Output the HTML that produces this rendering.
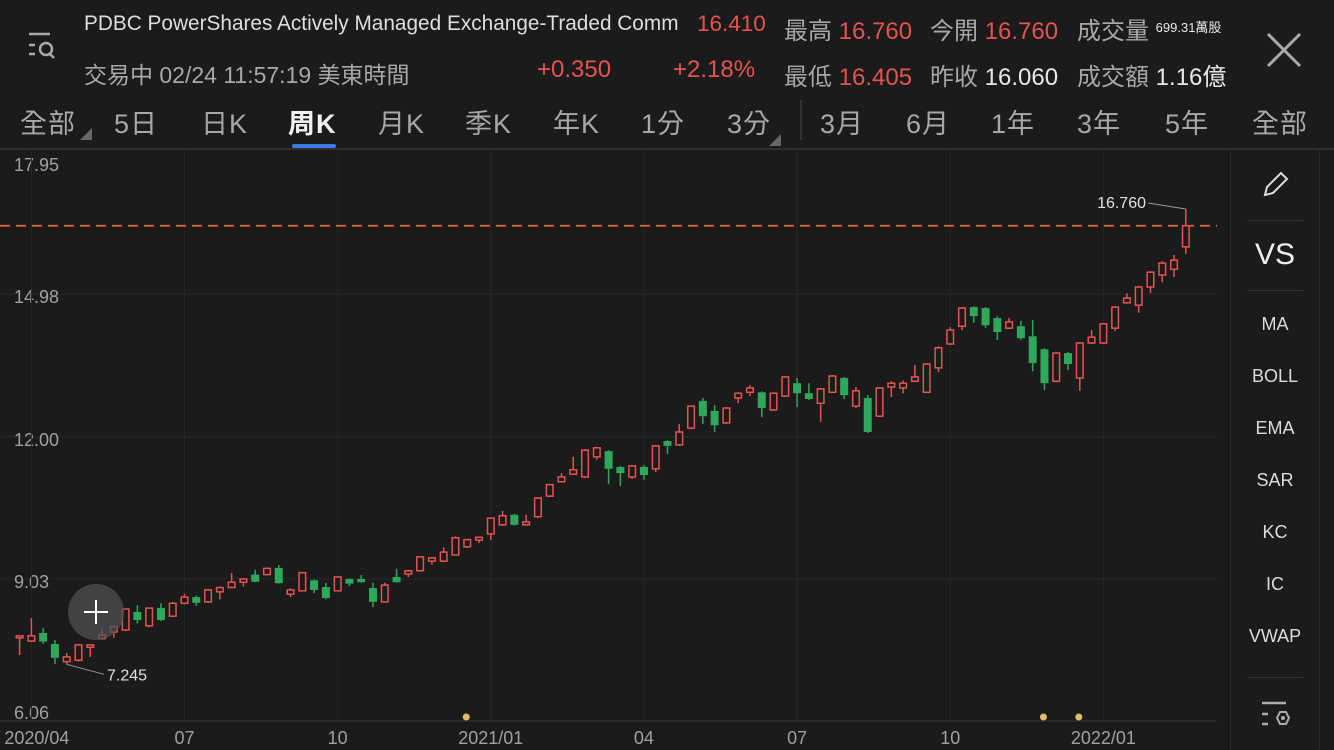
<!DOCTYPE html>
<html><head><meta charset="utf-8">
<style>
html,body{margin:0;padding:0;background:#1b1b1c;width:1334px;height:750px;overflow:hidden;font-family:"Liberation Sans","Noto Sans CJK TC",sans-serif;}
.t{position:absolute;white-space:nowrap;}
.g{color:#a8a8a8}.r{color:#e5534f}.w{color:#e8e8e8}
.tab{position:absolute;top:102px;font-size:27px;color:#a8a8a8;letter-spacing:1px}
.ind{position:absolute;left:1232px;width:86px;text-align:center;font-size:18px;color:#dcdcdc}
</style></head><body>
<div style="position:absolute;left:0;top:0;width:1334px;height:148px;">
  <svg class="t" style="left:26px;top:30px" width="34" height="34" viewBox="0 0 34 34"><line x1="3" y1="4" x2="24" y2="4" stroke="#aaa" stroke-width="2.5"/><line x1="3" y1="15" x2="9" y2="15" stroke="#aaa" stroke-width="2.5"/><line x1="3" y1="24" x2="9" y2="24" stroke="#aaa" stroke-width="2.5"/><circle cx="20" cy="19" r="6" fill="none" stroke="#aaa" stroke-width="2.5"/><line x1="24" y1="24" x2="28" y2="28" stroke="#aaa" stroke-width="2.5"/></svg>
  <div class="t w" style="left:84px;top:12px;font-size:20.8px;color:#dedede">PDBC PowerShares Actively Managed Exchange-Traded Comm</div>
  <div class="t g" style="left:84px;top:56px;font-size:23px">交易中 02/24 11:57:19 美東時間</div>
  <div class="t r" style="left:697px;top:11px;font-size:22.5px">16.410</div>
  <div class="t r" style="left:537px;top:56px;font-size:24px">+0.350</div>
  <div class="t r" style="left:673px;top:56px;font-size:24px">+2.18%</div>
  <div class="t" style="left:784px;top:11px;font-size:24px"><span class="g">最高 </span><span class="r">16.760</span></div>
  <div class="t" style="left:930px;top:11px;font-size:24px"><span class="g">今開 </span><span class="r">16.760</span></div>
  <div class="t" style="left:1077px;top:11px;font-size:24px"><span class="g">成交量 </span><span class="w" style="font-size:13px;vertical-align:7px">699.31萬股</span></div>
  <div class="t" style="left:784px;top:57px;font-size:24px"><span class="g">最低 </span><span class="r">16.405</span></div>
  <div class="t" style="left:930px;top:57px;font-size:24px"><span class="g">昨收 </span><span class="w">16.060</span></div>
  <div class="t" style="left:1077px;top:57px;font-size:24px"><span class="g">成交額 </span><span class="w">1.16億</span></div>
  <svg class="t" style="left:1266px;top:32px" width="36" height="36"><line x1="2" y1="2" x2="34" y2="34" stroke="#aaa" stroke-width="3"/><line x1="34" y1="2" x2="2" y2="34" stroke="#aaa" stroke-width="3"/></svg>
  <div class="tab" style="left:20px">全部</div>
  <div class="tab" style="left:114px">5日</div>
  <div class="tab" style="left:201px">日K</div>
  <div class="tab" style="left:288px;color:#f0f0f0;font-weight:bold">周K</div>
  <div class="tab" style="left:378px">月K</div>
  <div class="tab" style="left:465px">季K</div>
  <div class="tab" style="left:553px">年K</div>
  <div class="tab" style="left:641px">1分</div>
  <div class="tab" style="left:727px">3分</div>
  <div class="tab" style="left:820px">3月</div>
  <div class="tab" style="left:906px">6月</div>
  <div class="tab" style="left:991px">1年</div>
  <div class="tab" style="left:1077px">3年</div>
  <div class="tab" style="left:1165px">5年</div>
  <div class="tab" style="left:1252px">全部</div>
  <div style="position:absolute;left:292px;top:144px;width:44px;height:4px;background:#3e7be8;border-radius:2px"></div>
  <div style="position:absolute;left:800px;top:100px;width:2px;height:40px;background:#333"></div>
  <svg class="t" style="left:80px;top:128px" width="12" height="12"><polygon points="12,0 12,12 0,12" fill="#666"/></svg>
  <svg class="t" style="left:769px;top:134px" width="12" height="12"><polygon points="12,0 12,12 0,12" fill="#666"/></svg>
</div>
<div style="position:absolute;left:0;top:148px;width:1334px;height:2px;background:#2e2e2e"></div>

<svg id="chart" style="position:absolute;left:0;top:0" width="1230" height="750"></svg>

<div style="position:absolute;left:1230px;top:150px;width:88px;height:600px;border-left:1px solid #2a2a2a;border-right:1px solid #2a2a2a">
  <div style="position:absolute;left:16px;right:16px;top:70px;height:1px;background:#333"></div>
  <div style="position:absolute;left:16px;right:16px;top:140px;height:1px;background:#333"></div>
  <div style="position:absolute;left:16px;right:16px;top:527px;height:1px;background:#333"></div>
</div>
<svg class="t" style="left:1261px;top:169px" width="30" height="30"><path d="M4 26 L6 18 L20 4 L26 10 L12 24 Z" fill="none" stroke="#ddd" stroke-width="2"/></svg>
<div class="ind" style="top:238px;font-size:30px;color:#eee">VS</div>
<div class="ind" style="top:314px">MA</div>
<div class="ind" style="top:366px">BOLL</div>
<div class="ind" style="top:418px">EMA</div>
<div class="ind" style="top:470px">SAR</div>
<div class="ind" style="top:522px">KC</div>
<div class="ind" style="top:574px">IC</div>
<div class="ind" style="top:626px">VWAP</div>
<svg class="t" style="left:1260px;top:700px" width="32" height="30"><line x1="2" y1="3" x2="26" y2="3" stroke="#aaa" stroke-width="2.5"/><line x1="2" y1="14" x2="8" y2="14" stroke="#aaa" stroke-width="2.5"/><line x1="2" y1="24" x2="8" y2="24" stroke="#aaa" stroke-width="2.5"/><polygon points="20,12 26,12 29,18 26,24 20,24 17,18" fill="none" stroke="#aaa" stroke-width="2"/><circle cx="23" cy="18" r="2" fill="#aaa"/></svg>

<div style="position:absolute;left:68px;top:584px;width:56px;height:56px;border-radius:50%;background:rgba(80,80,82,0.75)">
  <div style="position:absolute;left:16px;top:27px;width:24px;height:2px;background:#fff"></div>
  <div style="position:absolute;left:27px;top:16px;width:2px;height:24px;background:#fff"></div>
</div>

<script>
const opens=[7.80,7.73,7.90,7.67,7.30,7.33,7.60,7.78,7.92,7.96,8.34,8.05,8.42,8.25,8.52,8.65,8.55,8.76,8.85,8.96,9.12,9.12,9.26,8.71,8.78,9.00,8.86,8.78,9.03,9.03,8.84,8.55,9.07,9.13,9.20,9.40,9.40,9.53,9.70,9.84,9.97,10.16,10.37,10.16,10.33,10.76,11.06,11.22,11.16,11.58,11.70,11.37,11.16,11.37,11.33,11.91,11.83,12.18,12.75,12.54,12.29,12.81,12.93,12.93,12.56,12.85,13.12,12.91,12.70,12.93,13.23,12.64,12.81,12.43,13.04,13.02,13.16,12.93,13.44,13.94,14.31,14.71,14.69,14.48,14.27,14.31,14.10,13.83,13.16,13.75,13.23,13.96,13.96,14.27,14.80,14.75,15.13,15.38,15.50,15.97];
const highs=[7.85,8.21,8.00,7.75,7.48,7.67,7.66,8.00,8.05,8.40,8.48,8.43,8.52,8.55,8.72,8.68,8.82,8.87,9.15,9.04,9.22,9.27,9.32,8.83,9.17,9.02,8.95,9.08,9.04,9.11,8.95,8.95,9.24,9.22,9.50,9.49,9.69,9.92,9.87,9.91,10.31,10.45,10.39,10.37,10.74,11.01,11.24,11.58,11.74,11.79,11.72,11.39,11.41,11.41,11.83,11.93,12.27,12.66,12.81,12.66,12.62,12.93,13.08,12.95,12.93,13.27,13.23,13.12,13.02,13.29,13.25,13.04,12.87,13.04,13.16,13.18,13.50,13.54,13.89,14.29,14.71,14.73,14.71,14.52,14.48,14.42,14.44,13.85,13.77,13.77,13.98,14.23,14.38,14.73,15.00,15.15,15.46,15.67,15.80,16.76];
const lows=[7.44,7.71,7.67,7.25,7.245,7.30,7.40,7.76,7.80,7.95,8.10,8.02,8.15,8.23,8.50,8.47,8.53,8.60,8.84,8.87,8.96,9.10,8.93,8.65,8.77,8.73,8.60,8.77,8.88,8.95,8.44,8.54,8.95,9.07,9.18,9.33,9.38,9.53,9.68,9.78,9.84,10.14,10.14,10.15,10.30,10.74,11.05,11.20,11.14,11.52,11.01,10.97,11.12,11.10,11.26,11.64,11.81,12.16,12.27,12.10,12.27,12.70,12.85,12.41,12.54,12.83,12.62,12.77,12.31,12.91,12.79,12.60,12.08,12.41,12.83,12.91,13.14,12.91,13.35,13.92,14.23,14.38,14.27,14.02,14.25,14.02,13.37,12.98,13.14,13.39,12.96,13.94,13.94,14.21,14.78,14.59,15.00,15.23,15.34,15.82];
const closes=[7.84,7.84,7.72,7.38,7.40,7.65,7.65,7.86,8.03,8.40,8.17,8.42,8.17,8.52,8.65,8.53,8.80,8.85,8.96,9.03,8.97,9.25,8.94,8.80,9.16,8.80,8.63,9.07,8.93,8.96,8.55,8.90,8.96,9.20,9.49,9.47,9.59,9.89,9.85,9.90,10.30,10.35,10.16,10.22,10.72,11.00,11.16,11.31,11.72,11.77,11.33,11.24,11.39,11.20,11.81,11.81,12.10,12.64,12.43,12.24,12.60,12.91,13.02,12.60,12.91,13.25,12.91,12.79,13.00,13.27,12.87,12.96,12.10,13.02,13.12,13.12,13.25,13.52,13.86,14.23,14.69,14.52,14.33,14.19,14.40,14.06,13.54,13.12,13.75,13.52,13.96,14.08,14.36,14.71,14.90,15.13,15.44,15.63,15.69,16.41];
const yTicks=[17.95,14.98,12.00,9.03,6.06];
const xTickLabels=["2020/04","07","10","2021/01","04","07","10","2022/01"];
const xTickIndex=[1,14,27,40,53,66,79,92];
const lastPrice=16.41;
const markerIndex=[38,87,90];

const NS="http://www.w3.org/2000/svg";
const svg=document.getElementById('chart');
const X0=19.6, STEP=11.78, PLOT_R=1217;
const yv=v=>721-(v-6.06)*47.85;
const xi=i=>X0+i*STEP;
function mk(tag,attrs,parent){const e=document.createElementNS(NS,tag);for(const k in attrs)e.setAttribute(k,attrs[k]);(parent||svg).appendChild(e);return e;}

yTicks.forEach((v,k)=>{
  const y=yv(v);
  if(k>0){const l=mk('line',{x1:0,x2:PLOT_R,y1:y,y2:y,stroke:k===yTicks.length-1?'#333':'#272727','stroke-width':1});
  
  }
  const t=mk('text',{x:14,y:k===yTicks.length-1?y-2:(k===0?y+19:y+9),fill:'#a0a0a0','font-size':18,'font-family':'Liberation Sans'});
  t.textContent=v.toFixed(2);
  
  
});
xTickIndex.forEach((ix,k)=>{
  const x=xi(ix);
  const l=mk('line',{x1:x,x2:x,y1:150,y2:722,stroke:'#272727','stroke-width':1});
  
  
  const t=mk('text',{x:k===0?x-27:x,y:744,fill:'#a0a0a0','font-size':18,'font-family':'Liberation Sans','text-anchor':k===0?'start':'middle'});
  t.textContent=xTickLabels[k];
  
  
});
markerIndex.forEach(ix=>{
  const c=mk('circle',{cx:xi(ix)-1,cy:717,r:3.5,fill:'#e2bd6a'});
  
  
});
const lp=mk('line',{x1:0,x2:PLOT_R,y1:yv(lastPrice),y2:yv(lastPrice),stroke:'#e0683f','stroke-width':1.8,'stroke-dasharray':'10,6'});



for(let i=0;i<closes.length;i++){
  const up=closes[i]>=opens[i];
  const col=up?'#e5534f':'#2ea85a';
  const x=xi(i);
  const g=mk('g',{});
  
  
  const top=yv(Math.max(opens[i],closes[i])), bot=yv(Math.min(opens[i],closes[i]));
  mk('line',{x1:x,x2:x,y1:yv(highs[i]),y2:top,stroke:col,'stroke-width':1.5},g);
  mk('line',{x1:x,x2:x,y1:bot,y2:yv(lows[i]),stroke:col,'stroke-width':1.5},g);
  const h=Math.max(bot-top,2);
  if(up) mk('rect',{x:x-3.3,y:top,width:6.6,height:h,fill:'#1b1b1c',stroke:col,'stroke-width':1.5},g);
  else mk('rect',{x:x-4,y:top,width:8,height:h,fill:col},g);
}
let hi=0,lo=0;
highs.forEach((v,i)=>{if(v>highs[hi])hi=i;});
lows.forEach((v,i)=>{if(v<lows[lo])lo=i;});
const hl=mk('line',{x1:xi(hi),y1:yv(highs[hi]),x2:1148,y2:yv(highs[hi])-6,stroke:'#999','stroke-width':1});


const ht=mk('text',{x:1146,y:yv(highs[hi])-1,fill:'#e0e0e0','font-size':16,'font-family':'Liberation Sans','text-anchor':'end'});
ht.textContent=highs[hi].toFixed(3);


const ll=mk('line',{x1:xi(lo),y1:yv(lows[lo]),x2:104,y2:yv(lows[lo])+10,stroke:'#999','stroke-width':1});


const lt=mk('text',{x:107,y:yv(lows[lo])+16,fill:'#e0e0e0','font-size':16,'font-family':'Liberation Sans'});
lt.textContent=lows[lo].toFixed(3);


</script>
</body></html>
